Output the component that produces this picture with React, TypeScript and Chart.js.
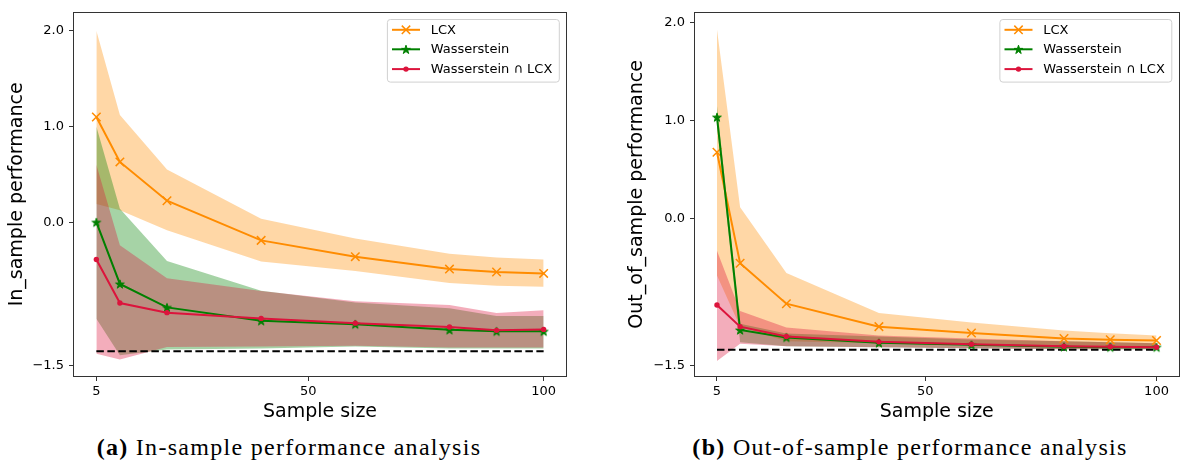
import React, { useEffect, useRef } from 'react';
import { Chart, registerables } from 'chart.js';

Chart.register(...registerables);
Chart.defaults.font.family = '"DejaVu Sans", sans-serif';

// ---------------- data ----------------
const sampleSizes = [5, 10, 20, 40, 60, 80, 90, 100];
const xTickValues = [5, 50, 100];
const yTickValues = [-1.5, 0, 1, 2];
const seriesNames = ['LCX', 'Wasserstein', 'Wasserstein ∩ LCX'];
const baselineX = [5, 100];

// In-sample panel
const inLcx = [1.1, 0.63, 0.225, -0.19, -0.36, -0.49, -0.52, -0.535];
const inLcxUpper = [2.0, 1.12, 0.55, 0.035, -0.17, -0.33, -0.37, -0.39];
const inLcxLower = [0.19, 0.125, -0.085, -0.41, -0.51, -0.635, -0.665, -0.675];
const inWass = [0.0, -0.645, -0.89, -1.03, -1.065, -1.125, -1.14, -1.14];
const inWassUpper = [1.0, 0.14, -0.405, -0.715, -0.84, -0.9, -0.98, -0.98];
const inWassLower = [-1.01, -1.39, -1.33, -1.32, -1.3, -1.32, -1.32, -1.32];
const inBoth = [-0.39, -0.845, -0.945, -1.005, -1.055, -1.095, -1.13, -1.12];
const inBothUpper = [0.6, -0.24, -0.585, -0.72, -0.825, -0.865, -0.95, -0.92];
const inBothLower = [-1.375, -1.435, -1.305, -1.3, -1.29, -1.31, -1.31, -1.31];
const inBaseline = [-1.349, -1.349];

// Out-of-sample panel
const outLcx = [0.677, -0.454, -0.866, -1.1, -1.164, -1.221, -1.234, -1.241];
const outLcxUpper = [1.927, 0.117, -0.554, -0.962, -1.057, -1.14, -1.168, -1.19];
const outLcxLower = [-0.578, -1.1, -1.25, -1.27, -1.29, -1.3, -1.3, -1.3];
const outWass = [1.035, -1.134, -1.21, -1.265, -1.285, -1.305, -1.31, -1.31];
const outWassUpper = [1.15, -1.07, -1.17, -1.2, -1.23, -1.25, -1.26, -1.27];
const outWassLower = [0.95, -1.26, -1.3, -1.31, -1.32, -1.33, -1.33, -1.33];
const outBoth = [-0.88, -1.1, -1.2, -1.255, -1.28, -1.3, -1.305, -1.31];
const outBothUpper = [-0.326, -0.94, -1.11, -1.19, -1.22, -1.25, -1.26, -1.27];
const outBothLower = [-1.45, -1.275, -1.3, -1.31, -1.32, -1.33, -1.33, -1.33];
const outBaseline = [-1.335, -1.335];

// ---------------- styles ----------------
const ORANGE = '#ff8c00';
const GREEN = '#008000';
const RED = '#dc143c';
const ORANGE_FILL = 'rgba(255,140,0,0.35)';
const GREEN_FILL = 'rgba(0,128,0,0.35)';
const RED_FILL = 'rgba(220,20,60,0.35)';

function drawStar(ctx: CanvasRenderingContext2D, cx: number, cy: number, R: number, color: string) {
  const r = R * 0.382;
  ctx.beginPath();
  for (let i = 0; i < 10; i++) {
    const a = -Math.PI / 2 + (i * Math.PI) / 5;
    const rr = i % 2 === 0 ? R : r;
    const px = cx + rr * Math.cos(a);
    const py = cy + rr * Math.sin(a);
    if (i === 0) ctx.moveTo(px, py);
    else ctx.lineTo(px, py);
  }
  ctx.closePath();
  ctx.fillStyle = color;
  ctx.fill();
  ctx.strokeStyle = color;
  ctx.lineWidth = 1;
  ctx.stroke();
}

function drawCrossRot(ctx: CanvasRenderingContext2D, cx: number, cy: number, h: number, color: string) {
  ctx.beginPath();
  ctx.moveTo(cx - h, cy - h);
  ctx.lineTo(cx + h, cy + h);
  ctx.moveTo(cx - h, cy + h);
  ctx.lineTo(cx + h, cy - h);
  ctx.strokeStyle = color;
  ctx.lineWidth = 1.5;
  ctx.stroke();
}

function makeStarImage() {
  const size = 12;
  const c = document.createElement('canvas');
  c.width = size;
  c.height = size;
  const g = c.getContext('2d')!;
  drawStar(g, size / 2, size / 2 + 0.5, 4.6, GREEN);
  return c;
}

const framePlugin = {
  id: 'mplFrame',
  afterDraw(chart: any) {
    const { ctx, chartArea } = chart;
    ctx.save();
    ctx.strokeStyle = '#333';
    ctx.lineWidth = 1;
    ctx.strokeRect(
      Math.round(chartArea.left) - 0.5,
      Math.round(chartArea.top) - 0.5,
      Math.round(chartArea.right - chartArea.left) + 1,
      Math.round(chartArea.bottom - chartArea.top) + 1
    );
    ctx.restore();
  },
};

const legendPlugin = {
  id: 'mplLegend',
  afterDraw(chart: any) {
    const { ctx, chartArea } = chart;
    ctx.save();
    ctx.font = '13px "DejaVu Sans"';
    const textW = Math.max(...seriesNames.map((n) => ctx.measureText(n).width));
    const handleLen = 28;
    const padL = 4.6;
    const gap = 10.7;
    const padR = 7;
    const boxW = padL + handleLen + gap + textW + padR;
    const boxH = 62.6;
    const boxRight = chartArea.right - 6.7;
    const boxTop = chartArea.top + 6.7;
    const boxLeft = boxRight - boxW;
    const rad = 3;
    ctx.beginPath();
    ctx.moveTo(boxLeft + rad, boxTop);
    ctx.lineTo(boxRight - rad, boxTop);
    ctx.quadraticCurveTo(boxRight, boxTop, boxRight, boxTop + rad);
    ctx.lineTo(boxRight, boxTop + boxH - rad);
    ctx.quadraticCurveTo(boxRight, boxTop + boxH, boxRight - rad, boxTop + boxH);
    ctx.lineTo(boxLeft + rad, boxTop + boxH);
    ctx.quadraticCurveTo(boxLeft, boxTop + boxH, boxLeft, boxTop + boxH - rad);
    ctx.lineTo(boxLeft, boxTop + rad);
    ctx.quadraticCurveTo(boxLeft, boxTop, boxLeft + rad, boxTop);
    ctx.closePath();
    ctx.fillStyle = 'rgba(255,255,255,0.8)';
    ctx.fill();
    ctx.strokeStyle = '#d0d0d0';
    ctx.lineWidth = 1;
    ctx.stroke();

    const colors = [ORANGE, GREEN, RED];
    const rows = [10.3, 29.8, 49.6];
    const hx = boxLeft + padL;
    seriesNames.forEach((name, i) => {
      const y = boxTop + rows[i];
      ctx.beginPath();
      ctx.moveTo(hx, y);
      ctx.lineTo(hx + handleLen, y);
      ctx.strokeStyle = colors[i];
      ctx.lineWidth = 2;
      ctx.stroke();
      const mx = hx + handleLen / 2;
      if (i === 0) drawCrossRot(ctx, mx, y, 4.2, ORANGE);
      else if (i === 1) drawStar(ctx, mx, y + 0.5, 4.6, GREEN);
      else {
        ctx.beginPath();
        ctx.arc(mx, y, 2.7, 0, Math.PI * 2);
        ctx.fillStyle = RED;
        ctx.fill();
      }
      ctx.fillStyle = '#000';
      ctx.textBaseline = 'middle';
      ctx.textAlign = 'left';
      ctx.fillText(name, hx + handleLen + gap, y + 0.5);
    });
    ctx.restore();
  },
};

type Panel = {
  lcx: number[]; lcxU: number[]; lcxL: number[];
  wass: number[]; wassU: number[]; wassL: number[];
  both: number[]; bothU: number[]; bothL: number[];
  base: number[];
  yMin: number; yMax: number; yTitle: string; padRight: number; yWidth: number;
};

function pts(ys: number[]) {
  return sampleSizes.map((x, i) => ({ x, y: ys[i] }));
}

function buildConfig(p: Panel, star: HTMLCanvasElement): any {
  const band = (ys: number[], order: number) => ({
    data: pts(ys),
    borderColor: 'rgba(0,0,0,0)',
    borderWidth: 0,
    pointRadius: 0,
    fill: false,
    order,
  });
  return {
    type: 'line',
    data: {
      datasets: [
        {
          label: seriesNames[0], data: pts(p.lcx), borderColor: ORANGE, borderWidth: 2,
          pointStyle: 'crossRot', pointRadius: 6, pointBorderWidth: 1.5,
          pointBorderColor: ORANGE, pointBackgroundColor: ORANGE, fill: false, order: 3, tension: 0,
        },
        {
          label: seriesNames[1], data: pts(p.wass), borderColor: GREEN, borderWidth: 2,
          pointStyle: star, pointRadius: 5, fill: false, order: 2, tension: 0,
        },
        {
          label: seriesNames[2], data: pts(p.both), borderColor: RED, borderWidth: 2,
          pointStyle: 'circle', pointRadius: 2.7, pointBorderWidth: 0,
          pointBackgroundColor: RED, pointBorderColor: RED, fill: false, order: 1, tension: 0,
        },
        {
          label: 'baseline', data: baselineX.map((x, i) => ({ x, y: p.base[i] })),
          borderColor: '#000', borderWidth: 2, borderDash: [7.5, 3.5], pointRadius: 0, fill: false, order: 4,
        },
        band(p.lcxL, 20),
        { ...band(p.lcxU, 7), fill: { target: 4, above: ORANGE_FILL, below: ORANGE_FILL } },
        band(p.wassL, 20),
        { ...band(p.wassU, 6), fill: { target: 6, above: GREEN_FILL, below: GREEN_FILL } },
        band(p.bothL, 20),
        { ...band(p.bothU, 5), fill: { target: 8, above: RED_FILL, below: RED_FILL } },
      ],
    },
    options: {
      animation: false,
      responsive: false,
      events: [],
      layout: { padding: { top: 8, right: p.padRight, left: 0, bottom: 0 } },
      plugins: {
        legend: { display: false },
        tooltip: { enabled: false },
        filler: { drawTime: 'beforeDatasetsDraw', propagate: false },
      },
      scales: {
        x: {
          type: 'linear',
          min: 0.25,
          max: 104.75,
          afterBuildTicks: (s: any) => { s.ticks = xTickValues.map((v) => ({ value: v })); },
          afterFit: (s: any) => { s.height = 54; },
          ticks: { font: { size: 13 }, color: '#000', padding: 3, maxRotation: 0, callback: (v: any) => String(v) },
          grid: { drawOnChartArea: false, drawTicks: true, tickLength: 5, color: '#333' },
          border: { display: false },
          title: { display: true, text: 'Sample size', font: { size: 19 }, color: '#000', padding: { top: 0, bottom: 6.6 } },
        },
        y: {
          type: 'linear',
          min: p.yMin,
          max: p.yMax,
          afterBuildTicks: (s: any) => { s.ticks = yTickValues.map((v) => ({ value: v })); },
          afterFit: (s: any) => { s.width = p.yWidth; },
          ticks: {
            font: { size: 13 }, color: '#000', padding: 5,
            callback: (v: any) => (v < 0 ? '\u2212' + Math.abs(v).toFixed(1) : Number(v).toFixed(1)),
          },
          grid: { drawOnChartArea: false, drawTicks: true, tickLength: 5, color: '#333' },
          border: { display: false },
          title: { display: true, text: p.yTitle, font: { size: 19 }, color: '#000', padding: { top: 6.1, bottom: 0 } },
        },
      },
    },
    plugins: [framePlugin, legendPlugin],
  };
}

const inPanel: Panel = {
  lcx: inLcx, lcxU: inLcxUpper, lcxL: inLcxLower,
  wass: inWass, wassU: inWassUpper, wassL: inWassLower,
  both: inBoth, bothU: inBothUpper, bothL: inBothLower,
  base: inBaseline,
  yMin: -1.607, yMax: 2.188, yTitle: 'In_sample performance', padRight: 14, yWidth: 74,
};

const outPanel: Panel = {
  lcx: outLcx, lcxU: outLcxUpper, lcxL: outLcxLower,
  wass: outWass, wassU: outWassUpper, wassL: outWassLower,
  both: outBoth, bothU: outBothUpper, bothL: outBothLower,
  base: outBaseline,
  yMin: -1.603, yMax: 2.098, yTitle: 'Out_of_sample performance', padRight: 1, yWidth: 75,
};

function PanelChart({ panel, width, height }: { panel: Panel; width: number; height: number }) {
  const ref = useRef<HTMLCanvasElement>(null);
  useEffect(() => {
    if (!ref.current) return;
    const chart = new Chart(ref.current, buildConfig(panel, makeStarImage()));
    return () => chart.destroy();
  }, [panel]);
  return <canvas ref={ref} width={width} height={height} style={{ width, height, display: 'block' }} />;
}

const captionStyle: React.CSSProperties = {
  position: 'absolute',
  top: 433,
  transform: 'translateX(-50%)',
  whiteSpace: 'nowrap',
  fontFamily: '"Liberation Serif", "DejaVu Serif", serif',
  fontSize: 24,
  letterSpacing: '1.3px',
  color: '#000',
  lineHeight: '28px',
};

export default function App() {
  return (
    <div style={{ position: 'absolute', left: 0, top: 0, width: 1186, height: 473, background: '#fff', overflow: 'hidden' }}>
      <div style={{ position: 'absolute', left: 0, top: 0 }}>
        <PanelChart panel={inPanel} width={580} height={430} />
      </div>
      <div style={{ position: 'absolute', left: 620, top: 0 }}>
        <PanelChart panel={outPanel} width={566} height={430} />
      </div>
      <div style={{ ...captionStyle, left: 289 }}>
        <b>(a)</b> In-sample performance analysis
      </div>
      <div style={{ ...captionStyle, left: 910 }}>
        <b>(b)</b> Out-of-sample performance analysis
      </div>
    </div>
  );
}
